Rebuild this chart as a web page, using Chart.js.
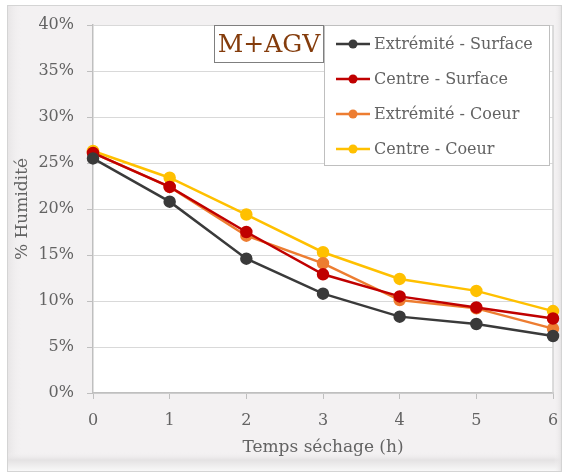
<!DOCTYPE html>
<html>
<head>
<meta charset="utf-8">
<script src="https://cdn.jsdelivr.net/npm/chart.js@4/dist/chart.umd.min.js"></script>
<style>
  html, body { margin: 0; padding: 0; background: #fff; }
  #wrap { width: 565px; height: 474px; }
</style>
</head>
<body>
<div id="wrap"><canvas id="humChart" width="565" height="474"></canvas></div>
<script>
// temps de séchage (h)
const heures = ['0', '1', '2', '3', '4', '5', '6'];

// % humidité
const extremiteSurface = [25.5, 20.8, 14.6, 10.8, 8.3, 7.5, 6.2];
const centreSurface = [26.1, 22.4, 17.5, 12.9, 10.5, 9.3, 8.1];
const extremiteCoeur = [26.1, 22.4, 17.1, 14.1, 10.1, 9.2, 7.0];
const centreCoeur = [26.3, 23.4, 19.4, 15.3, 12.4, 11.1, 8.9];

const nomsSeries = ['Extrémité - Surface', 'Centre - Surface', 'Extrémité - Coeur', 'Centre - Coeur'];
const couleurs = ['#3a3a3a', '#c00000', '#ed7d31', '#ffc000'];
const titre = 'M+AGV';

const police = "'DejaVu Serif', 'Liberation Serif', serif";
const gris = '#636363';

// fond biseauté + cadre du titre + légende
const decor = {
  id: 'decor',
  beforeDraw(chart) {
    const { ctx, chartArea: a } = chart;
    ctx.save();
    ctx.fillStyle = '#ffffff';
    ctx.fillRect(0, 0, chart.width, chart.height);
    ctx.fillStyle = '#f3f1f2';
    ctx.fillRect(7, 5, 555, 467);
    // biseau gauche
    let g = ctx.createLinearGradient(7, 0, 22, 0);
    g.addColorStop(0, '#e6e4e5');
    g.addColorStop(1, 'rgba(243,241,242,0)');
    ctx.fillStyle = g;
    ctx.fillRect(8, 6, 15, 465);
    // biseau bas
    g = ctx.createLinearGradient(0, 452, 0, 472);
    g.addColorStop(0, 'rgba(243,241,242,0)');
    g.addColorStop(0.4, '#e4e2e3');
    g.addColorStop(1, '#fafafa');
    ctx.fillStyle = g;
    ctx.fillRect(8, 452, 553, 20);
    // biseau droit
    g = ctx.createLinearGradient(554, 0, 562, 0);
    g.addColorStop(0, 'rgba(243,241,242,0)');
    g.addColorStop(1, '#e2e0e1');
    ctx.fillStyle = g;
    ctx.fillRect(554, 6, 8, 465);
    ctx.strokeStyle = '#d4d4d4';
    ctx.lineWidth = 1;
    ctx.strokeRect(7.5, 5.5, 554, 466);
    ctx.fillStyle = '#ffffff';
    ctx.fillRect(a.left, a.top, a.right - a.left, a.bottom - a.top);
    ctx.restore();
  },
  beforeDatasetsDraw(chart) {
    const { ctx, chartArea: a } = chart;
    ctx.save();
    ctx.strokeStyle = '#d0d0d0';
    ctx.lineWidth = 1.5;
    ctx.beginPath();
    ctx.moveTo(a.right, a.top);
    ctx.lineTo(a.right, a.bottom);
    ctx.stroke();
    ctx.restore();
  },
  afterDraw(chart) {
    const { ctx, chartArea: a } = chart;
    ctx.save();
    // cadre du titre
    ctx.fillStyle = '#ffffff';
    ctx.fillRect(214, a.top, 110, 38);
    ctx.strokeStyle = '#7f7f7f';
    ctx.lineWidth = 1;
    ctx.strokeRect(214.5, a.top + 0.5, 109, 37);
    ctx.fillStyle = '#843c0c';
    ctx.font = '25px ' + police;
    ctx.textAlign = 'center';
    ctx.textBaseline = 'middle';
    ctx.fillText(titre, 269, a.top + 20);
    // légende
    const lx = 324, ly = a.top, lw = 226, lh = 141;
    ctx.fillStyle = '#ffffff';
    ctx.fillRect(lx, ly, lw, lh);
    ctx.strokeStyle = '#bfbfbf';
    ctx.strokeRect(lx + 0.5, ly + 0.5, lw - 1, lh - 1);
    ctx.font = '16px ' + police;
    ctx.textAlign = 'left';
    chart.data.datasets.forEach((ds, i) => {
      const y = ly + 19 + i * 35;
      ctx.strokeStyle = ds.borderColor;
      ctx.lineWidth = 2.5;
      ctx.beginPath();
      ctx.moveTo(336, y);
      ctx.lineTo(370, y);
      ctx.stroke();
      ctx.fillStyle = ds.borderColor;
      ctx.beginPath();
      ctx.arc(353, y, 4.5, 0, Math.PI * 2);
      ctx.fill();
      ctx.fillStyle = gris;
      ctx.fillText(ds.label, 374, y + 1);
    });
    ctx.restore();
  }
};

const series = [extremiteSurface, centreSurface, extremiteCoeur, centreCoeur];

new Chart(document.getElementById('humChart').getContext('2d'), {
  type: 'line',
  data: {
    labels: heures,
    datasets: series.map((vals, i) => ({
      label: nomsSeries[i],
      data: vals,
      borderColor: couleurs[i],
      backgroundColor: couleurs[i],
      borderWidth: 2.5,
      pointRadius: 5,
      pointHoverRadius: 5,
      tension: 0,
      clip: false
    }))
  },
  options: {
    responsive: false,
    animation: false,
    layout: { padding: { left: 8, right: 12, top: 25, bottom: 0 } },
    plugins: {
      legend: { display: false },
      tooltip: { enabled: false }
    },
    scales: {
      x: {
        offset: false,
        grid: { display: true, drawOnChartArea: false, tickLength: 6, tickColor: '#bfbfbf' },
        border: { color: '#bfbfbf', width: 1.5 },
        ticks: { color: gris, font: { family: police, size: 16 }, padding: 12, maxRotation: 0 },
        title: { display: true, text: 'Temps séchage (h)', color: gris, font: { family: police, size: 17 }, padding: { top: 0, bottom: 16 } },
        afterFit(s) { s.height = 81; s.paddingLeft = 0; s.paddingRight = 0; }
      },
      y: {
        min: 0,
        max: 40,
        ticks: { stepSize: 5, color: gris, font: { family: police, size: 16 }, padding: 13, callback: v => v + '%' },
        grid: { color: '#d9d9d9', tickLength: 6, tickColor: '#bfbfbf' },
        border: { color: '#bfbfbf', width: 1.5 },
        title: { display: true, text: '% Humidité', color: gris, font: { family: police, size: 17 }, padding: { top: 4, bottom: 0 } },
        afterFit(s) { s.width = 85; s.paddingTop = 0; s.paddingBottom = 0; }
      }
    }
  },
  plugins: [decor]
});
</script>
</body>
</html>
